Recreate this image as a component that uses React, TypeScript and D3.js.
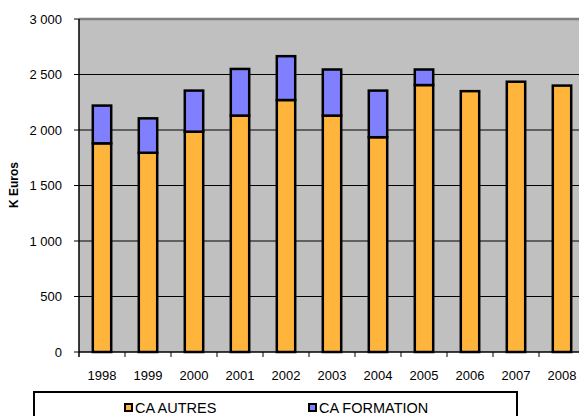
import * as d3 from 'd3'

const years = ['1998', '1999', '2000', '2001', '2002', '2003', '2004', '2005', '2006', '2007', '2008']
const caAutres = [1880, 1795, 1985, 2130, 2270, 2130, 1935, 2405, 2350, 2435, 2400]
const caFormation = [340, 310, 370, 420, 395, 415, 420, 140, 0, 0, 0]
const yTicks = [0, 500, 1000, 1500, 2000, 2500, 3000]
const seriesNames = ['CA AUTRES', 'CA FORMATION']

const W = 579
const H = 416
const PLOT = { left: 79, right: 585, top: 19, bottom: 352 }
const ORANGE = '#FFB43C'
const BLUE = '#8080FF'
const BG = '#C0C0C0'
const FONT = 'Liberation Sans, Arial, sans-serif'

const fmt = (v: number) => (v >= 1000 ? `${Math.floor(v / 1000)} ${String(v % 1000).padStart(3, '0')}` : String(v))

export default function App() {
  const x = d3.scaleBand<string>()
    .domain(years)
    .range([PLOT.left, PLOT.right])
    .paddingInner(0.6)
    .paddingOuter(0.3)

  const y = d3.scaleLinear().domain([0, 3000]).range([PLOT.bottom, PLOT.top])

  const stacked = d3.stack<number>()
    .keys(['a', 'f'])
    .value((i, k) => (k === 'a' ? caAutres[i] : caFormation[i]))(years.map((_, i) => i))

  const step = x.step()
  const bw = x.bandwidth()

  return (
    <svg width={W} height={H} style={{ position: 'absolute', left: 0, top: 0, fontFamily: FONT }}>
      <rect x={PLOT.left} y={PLOT.top} width={W - PLOT.left + 10} height={PLOT.bottom - PLOT.top} fill={BG} />
      {/* gridlines */}
      {yTicks.filter(t => t > 0 && t < 3000).map(t => (
        <line key={t} x1={PLOT.left} x2={W} y1={y(t)} y2={y(t)} stroke="#000" strokeWidth={1} />
      ))}
      <line x1={PLOT.left} x2={W} y1={PLOT.top} y2={PLOT.top} stroke="#808080" strokeWidth={2.5} />

      {/* bars */}
      {stacked.map((s, si) => (
        <g key={s.key}>
          {s.map((d, i) => d[1] - d[0] > 0 && (
            <rect key={i}
              x={x(years[i])!}
              y={y(d[1])}
              width={bw}
              height={y(d[0]) - y(d[1])}
              fill={si === 0 ? ORANGE : BLUE}
              stroke="#000"
              strokeWidth={2.5} />
          ))}
        </g>
      ))}

      {/* axes */}
      <line x1={PLOT.left} x2={PLOT.left} y1={PLOT.top} y2={PLOT.bottom + 5} stroke="#000" strokeWidth={1.5} />
      <line x1={PLOT.left} x2={W} y1={PLOT.bottom} y2={PLOT.bottom} stroke="#000" strokeWidth={1.5} />
      {yTicks.map(t => (
        <g key={t}>
          <line x1={PLOT.left - 5} x2={PLOT.left} y1={y(t)} y2={y(t)} stroke="#000" strokeWidth={1} />
          <text x={62} y={y(t)} dy="0.35em" textAnchor="end" fontSize={13}>{fmt(t)}</text>
        </g>
      ))}
      {years.map((yr, i) => (
        <g key={yr}>
          <line x1={PLOT.left + step * (i + 1)} x2={PLOT.left + step * (i + 1)} y1={PLOT.bottom} y2={PLOT.bottom + 5} stroke="#000" strokeWidth={1} />
          <text x={x(yr)! + bw / 2} y={PLOT.bottom + 28} textAnchor="middle" fontSize={13}>{yr}</text>
        </g>
      ))}
      <text transform={`translate(18,185) rotate(-90)`} textAnchor="middle" fontSize={12} fontWeight="bold">K Euros</text>

      {/* legend */}
      <rect x={34} y={392} width={483} height={40} fill="#fff" stroke="#000" strokeWidth={2} />
      {seriesNames.map((n, i) => {
        const lx = i === 0 ? 124 : 308
        return (
          <g key={n}>
            <rect x={lx + 1} y={404} width={7} height={7} fill={i === 0 ? ORANGE : BLUE} stroke="#000" strokeWidth={2} />
            <text x={lx + 11} y={413} fontSize={14.5}>{n}</text>
          </g>
        )
      })}
    </svg>
  )
}
